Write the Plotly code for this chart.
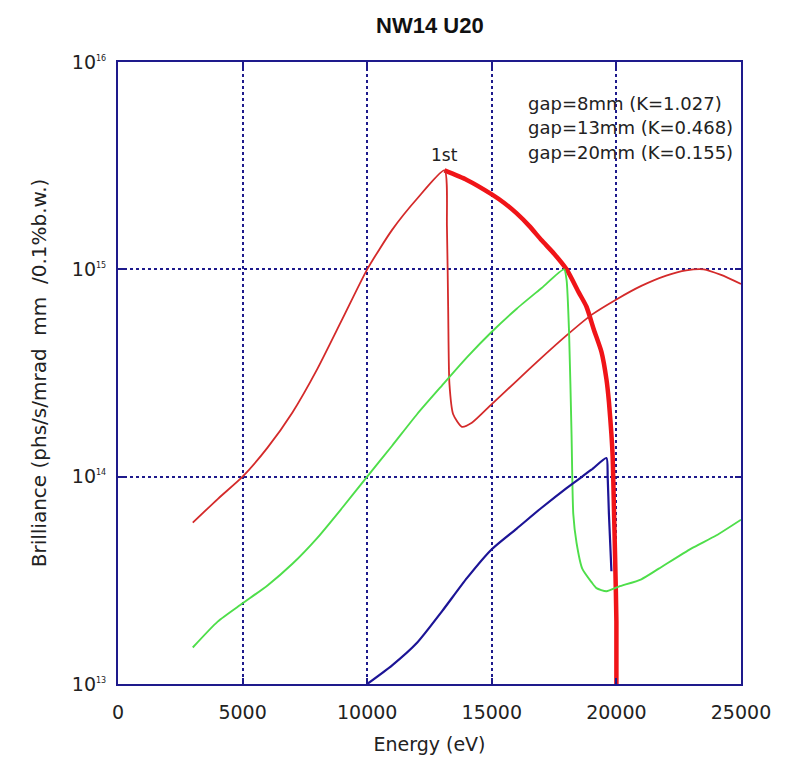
import plotly.graph_objects as go

# Undulator NW14 U20 brilliance curves
e_gap8 = [3000, 4000, 5000, 6000, 7000, 8000, 9000, 10000, 11000, 12000, 13100,
          13200, 13250, 13300, 13450, 13800, 14200, 15000, 16000, 17000, 18000,
          19000, 20000, 21000, 22000, 22800, 23500, 24200, 25000]
b_gap8 = [6.0e13, 7.8e13, 1.0e14, 1.38e14, 2.04e14, 3.31e14, 5.75e14, 1.0e15, 1.55e15, 2.19e15, 3.0e15,
          1.6e15, 6.3e14, 2.8e14, 2.0e14, 1.74e14, 1.82e14, 2.24e14, 2.9e14, 3.75e14, 4.8e14,
          6.03e14, 7.16e14, 8.32e14, 9.33e14, 9.89e14, 1.0e15, 9.4e14, 8.5e14]

e_gap13 = [3000, 4000, 5000, 6000, 7000, 8000, 9000, 10000, 11000, 12000, 13000, 14000,
           15000, 16000, 17000, 17900, 18000, 18100, 18200, 18270, 18400, 18630, 19000,
           19200, 19600, 20100, 21000, 21700, 23000, 24000, 25000]
b_gap13 = [1.5e13, 2.0e13, 2.45e13, 2.99e13, 3.8e13, 5.07e13, 7.08e13, 1.0e14, 1.41e14, 2.0e14, 2.75e14, 3.76e14,
           5.0e14, 6.46e14, 8.13e14, 1.0e15, 8.9e14, 5.0e14, 1.6e14, 6.6e13, 4.8e13, 3.6e13, 3.1e13,
           2.9e13, 2.8e13, 2.95e13, 3.2e13, 3.6e13, 4.5e13, 5.2e13, 6.2e13]

e_gap20 = [10000, 11000, 12000, 13000, 14000, 15000, 16000, 17000, 18000, 19000, 19600, 19650, 19700, 19800]
b_gap20 = [1.0e13, 1.23e13, 1.58e13, 2.24e13, 3.24e13, 4.47e13, 5.62e13, 7.08e13, 8.81e13, 1.08e14, 1.23e14, 1.0e14, 6.6e13, 3.5e13]

# first-harmonic tuning curve
e_first = [13100, 14000, 15000, 15500, 16000, 16500, 17000, 17500, 18000, 18500, 18800, 19100,
           19400, 19600, 19700, 19800, 19850, 19900, 19950, 20000, 20000]
b_first = [3.0e15, 2.7e15, 2.3e15, 2.09e15, 1.86e15, 1.62e15, 1.38e15, 1.19e15, 1.0e15, 7.7e14, 6.6e14, 5.1e14,
           4.0e14, 2.95e14, 2.3e14, 1.6e14, 1.25e14, 7.1e13, 4.0e13, 2.0e13, 3.0e12]

legend_lines = ["gap=8mm (K=1.027)", "gap=13mm (K=0.468)", "gap=20mm (K=0.155)"]

y_tickvals = [1e13, 1e14, 1e15, 1e16]
y_ticktext = ["10<sup><span style='font-size:8px'>13</span></sup>",
              "10<sup><span style='font-size:8px'>14</span></sup>",
              "10<sup><span style='font-size:8px'>15</span></sup>",
              "10<sup><span style='font-size:8px'>16</span></sup>"]
x_tickvals = [0, 5000, 10000, 15000, 20000, 25000]

NAVY = "#1e1a8c"
FONT = "DejaVu Sans"
SMOOTH = 0.6

fig = go.Figure()
fig.add_trace(go.Scatter(x=e_first, y=b_first, mode="lines",
                         line=dict(color="#f01418", width=4.5, shape="spline", smoothing=SMOOTH),
                         showlegend=False))
fig.add_trace(go.Scatter(x=e_gap8, y=b_gap8, mode="lines",
                         line=dict(color="#d42a2a", width=1.8, shape="spline", smoothing=SMOOTH),
                         showlegend=False))
fig.add_trace(go.Scatter(x=e_gap13, y=b_gap13, mode="lines",
                         line=dict(color="#4ede4a", width=1.9, shape="spline", smoothing=SMOOTH),
                         showlegend=False))
fig.add_trace(go.Scatter(x=e_gap20, y=b_gap20, mode="lines",
                         line=dict(color="#1c1496", width=2.2, shape="spline", smoothing=SMOOTH),
                         showlegend=False))

fig.add_annotation(x=13100, y=15.55, xref="x", yref="y", text="1st", showarrow=False,
                   font=dict(family=FONT, size=17, color="#222"))

for i, txt in enumerate(legend_lines):
    fig.add_annotation(x=0.655, y=0.934 - 0.040 * i, xref="paper", yref="paper",
                       xanchor="left", yanchor="middle", text=txt, showarrow=False,
                       font=dict(family=FONT, size=18, color="#222"))

fig.update_layout(
    width=788, height=763,
    margin=dict(l=118, r=47, t=62, b=79),
    paper_bgcolor="white", plot_bgcolor="white",
    title=dict(text="<b>NW14 U20</b>", x=0.5455, xanchor="center", y=0.967, yanchor="middle",
               font=dict(family="Liberation Sans", size=22, color="#111")),
    font=dict(family=FONT, size=17, color="#222"),
)
fig.update_xaxes(
    range=[0, 25000], tickvals=x_tickvals, ticktext=[str(v) for v in x_tickvals],
    showline=True, linecolor=NAVY, linewidth=2, mirror="ticks",
    ticks="inside", ticklen=6, tickcolor=NAVY, tickwidth=2,
    showgrid=True, gridcolor=NAVY, griddash="dot", gridwidth=1.5,
    zeroline=False, ticklabelstandoff=10,
    title=dict(text="Energy (eV)", font=dict(family=FONT, size=19), standoff=16),
    tickfont=dict(family=FONT, size=19),
)
fig.update_yaxes(
    type="log", range=[13, 16], tickvals=y_tickvals, ticktext=y_ticktext,
    showline=True, linecolor=NAVY, linewidth=2, mirror="ticks",
    ticks="inside", ticklen=6, tickcolor=NAVY, tickwidth=2,
    showgrid=True, gridcolor=NAVY, griddash="dot", gridwidth=1.5,
    zeroline=False, ticklabelstandoff=6,
    title=dict(text="Brilliance (phs/s/mrad  mm  /0.1%b.w.)", font=dict(family=FONT, size=20), standoff=20),
    tickfont=dict(family=FONT, size=19),
)

fig.write_html("out.html")
